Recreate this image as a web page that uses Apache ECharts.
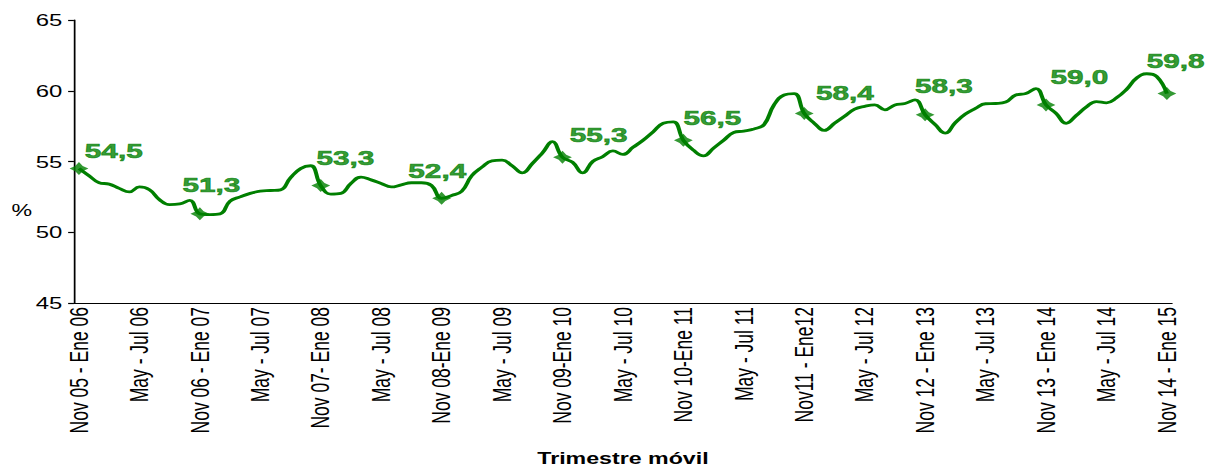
<!DOCTYPE html>
<html>
<head>
<meta charset="utf-8">
<script src="https://cdn.jsdelivr.net/npm/echarts@6/dist/echarts.min.js"></script>
<style>
html, body { margin: 0; padding: 0; background: #fff; overflow: hidden; }
/* the source picture is stretched sideways, so draw narrow and stretch */
#chart { width: 832px; height: 466px; transform: scaleX(1.4495); transform-origin: 0 0; }
</style>
</head>
<body>
<div id="chart"></div>
<script>
var tickLabels = [
	'Nov 05 - Ene 06', 'May - Jul 06', 'Nov 06 - Ene 07', 'May - Jul 07',
	'Nov 07- Ene 08', 'May - Jul 08', 'Nov 08-Ene 09', 'May - Jul 09',
	'Nov 09-Ene 10', 'May - Jul 10', 'Nov 10-Ene 11', 'May - Jul 11',
	'Nov11 - Ene12', 'May - Jul 12', 'Nov 12 - Ene 13', 'May - Jul 13',
	'Nov 13 - Ene 14', 'May - Jul 14', 'Nov 14 - Ene 15'
];
var months = ['Ene', 'Feb', 'Mar', 'Abr', 'May', 'Jun', 'Jul', 'Ago', 'Sep', 'Oct', 'Nov', 'Dic'];

// tasa, trimestre movil (%)
var rate = [
	54.5, 54.0, 53.5, 53.4, 53.1, 52.85, 53.2, 53.0, 52.3, 51.95, 52.0, 52.25,
	51.3, 51.25, 51.3, 52.2, 52.5, 52.75, 52.9, 52.95, 53.0, 53.85, 54.5, 54.7,
	53.3, 52.7, 52.75, 53.45, 53.9, 53.7, 53.45, 53.2, 53.35, 53.5, 53.5, 53.3,
	52.4, 52.6, 52.9, 54.0, 54.6, 55.05, 55.1, 54.7, 54.2, 54.85, 55.6, 56.4,
	55.3, 54.95, 54.2, 55.0, 55.35, 55.75, 55.5, 56.0, 56.5, 57.1, 57.7, 57.8,
	56.5, 55.8, 55.4, 55.95, 56.5, 57.05, 57.15, 57.3, 57.6, 59.0, 59.7, 59.8,
	58.4, 57.7, 57.2, 57.7, 58.2, 58.7, 58.9, 59.0, 58.65, 59.0, 59.1, 59.35,
	58.3, 57.6, 57.0, 57.75, 58.35, 58.75, 59.08, 59.1, 59.2, 59.7, 59.8, 60.15,
	59.0, 58.4, 57.7, 58.25, 58.85, 59.23, 59.15, 59.5, 60.1, 60.9, 61.2, 61.0, 59.8
];

// label nudges for the Nov-Ene points (layout only)
var labelShift = [
	[24, -18], [8, -29], [17, -28], [-3, -28], [25, -22],
	[20, -23], [28, -21], [13, -29], [23, -28], [6, -33]
];

var font = 'Liberation Sans, Arial, sans-serif';
var green = '#007f00';

var categories = [];
for (var i = 0; i < rate.length; i++) {
	if (i % 6 == 0) {
		categories.push(tickLabels[i / 6]);
		continue;
	}
	var s = (10 + i) % 12, e = (s + 2) % 12;
	var ys = 5 + Math.floor((10 + i) / 12), ye = 5 + Math.floor((12 + i) / 12);
	var pad = function(n) { return (n < 10 ? '0' : '') + n; };
	categories.push(months[s] + ' ' + pad(ys) + ' - ' + months[e] + ' ' + pad(ye));
}

var marks = [];
for (var j = 0; j < rate.length; j += 12) {
	marks.push({
		value: [j, rate[j]],
		label: { offset: labelShift[j / 12] }
	});
}

var myChart = echarts.init(document.getElementById('chart'), null, { renderer: 'svg' });

var option = {
	animation: false,
	backgroundColor: '#fff',
	grid: {
		left: 51,
		right: 23.5,
		top: 20,
		bottom: 163,
		outerBoundsMode: 'none'
	},
	graphic: [{
		type: 'text',
		style: {
			text: '%',
			x: 15,
			y: 210,
			align: 'center',
			verticalAlign: 'middle',
			fontSize: 16,
			fontFamily: font,
			fill: '#000'
		}
	}],
	xAxis: {
		type: 'category',
		data: categories,
		boundaryGap: true,
		axisLine: { lineStyle: { color: '#000', width: 1.2 } },
		axisTick: { interval: 7, length: 4, lineStyle: { color: '#000', width: 1.2 } },
		axisLabel: {
			interval: 5,
			rotate: 90,
			margin: 4,
			fontSize: 17.5,
			fontFamily: font,
			color: '#000'
		},
		splitLine: { show: false },
		name: 'Trimestre móvil',
		nameLocation: 'middle',
		nameGap: 147,
		nameTextStyle: { fontSize: 16, fontWeight: 'bold', fontFamily: font, color: '#000' }
	},
	yAxis: {
		type: 'value',
		min: 45,
		max: 65,
		interval: 5,
		axisLine: { show: true, lineStyle: { color: '#000', width: 1.2 } },
		axisTick: { show: true, length: 4, lineStyle: { color: '#000', width: 1.2 } },
		axisLabel: { margin: 8, fontSize: 16.5, fontFamily: font, color: '#000' },
		splitLine: { show: false }
	},
	series: [{
		type: 'line',
		data: rate,
		smooth: 0.45,
		showSymbol: false,
		lineStyle: { color: green, width: 2.8 },
		z: 2
	}, {
		type: 'scatter',
		data: marks,
		symbol: 'path://M0,-10 L4,-4 L10,0 L4,4 L0,10 L-4,4 L-10,0 L-4,-4 Z',
		symbolSize: 13,
		itemStyle: { color: green },
		label: {
			show: true,
			position: 'inside',
			align: 'center',
			verticalAlign: 'middle',
			fontSize: 20.5,
			fontWeight: 'bold',
			fontFamily: font,
			color: green,
			textBorderColor: green,
			textBorderWidth: 0.7,
			formatter: function(p) {
				return p.value[1].toFixed(1).replace('.', ',');
			}
		},
		z: 3
	}]
};

myChart.setOption(option);
</script>
</body>
</html>
